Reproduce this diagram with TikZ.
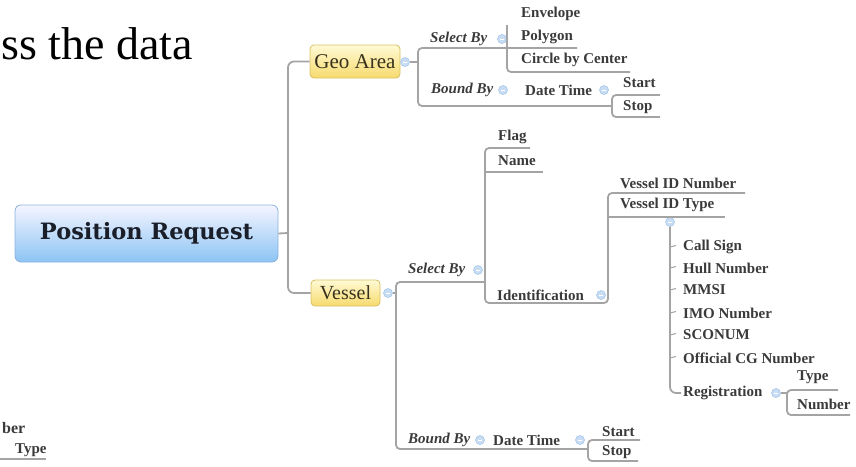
\documentclass[tikz,border=0pt]{standalone}
\usepackage{fontspec}
\setmainfont{Liberation Serif}
\newfontfamily\djs{DejaVu Serif}
\definecolor{lineg}{HTML}{A4A4A4}
\definecolor{txt}{HTML}{3A3A3A}
\definecolor{togfill}{HTML}{C8DDF3}
\definecolor{togdraw}{HTML}{9EC2E6}
\tikzset{
  conn/.style={draw=lineg, line width=1.8pt, rounded corners=4pt},
  tick/.style={draw=lineg, line width=1pt},
  lbl/.style={font=\fontsize{15}{17}\selectfont\bfseries, text=txt, inner sep=0pt, anchor=west},
  lbli/.style={font=\fontsize{15}{17}\selectfont\bfseries\itshape, text=txt, inner sep=0pt, anchor=west},
  tog/.style={circle, fill=togfill, draw=togdraw, line width=0.5pt, minimum size=9pt, inner sep=0pt,
    path picture={\draw[white,line width=0.9pt] ([xshift=-2pt]path picture bounding box.center) -- ([xshift=2pt]path picture bounding box.center);}},
  rootbox/.style={rectangle, rounded corners=6pt, top color=blue!4!white, bottom color={rgb,255:red,140;green,196;blue,244},
    draw={rgb,255:red,140;green,178;blue,220}, line width=0.8pt, minimum width=263pt, minimum height=57pt,
    font=\djs\fontsize{22.5}{24}\selectfont\bfseries, text={rgb,255:red,25;green,30;blue,40}},
  topic/.style={rectangle, rounded corners=4pt, top color={rgb,255:red,255;green,250;blue,212}, bottom color={rgb,255:red,247;green,218;blue,110},
    draw={rgb,255:red,214;green,192;blue,100}, line width=0.8pt, text={rgb,255:red,55;green,50;blue,30}, inner sep=0pt}
}
\begin{document}
\begin{tikzpicture}[x=1pt,y=-1pt]
\useasboundingbox (0,0) rectangle (856,466);

% slide text fragments
\node[font=\fontsize{46}{48}\selectfont, anchor=base east, inner sep=0pt, text=black] (slide) at (193,59) {ss the data};
\node[font=\fontsize{16}{18}\selectfont\bfseries, anchor=base west, inner sep=0pt, text=txt] (frag1) at (2,433) {ber};
\node[font=\fontsize{15}{17}\selectfont\bfseries, anchor=base west, inner sep=0pt, text=txt] (frag2) at (15,453) {Type};
\coordinate (fragL) at (0,459);
\coordinate (fragR) at (46,459);
\draw[draw=lineg, line width=1.6pt] (fragL) -- (fragR);

% root and main topics
\node[rootbox] (root) at (146.5,233.5) {Position Request};
\node[topic, minimum width=90pt, minimum height=33pt, font=\fontsize{21}{23}\selectfont] (geo) at (355,61.5) {Geo Area};
\node[topic, minimum width=69pt, minimum height=26pt, font=\fontsize{20}{22}\selectfont] (vessel) at (345.5,293) {Vessel};
\coordinate (trunk) at (288,233);
\draw[conn, rounded corners=6pt] (geo.west) -| (trunk) |- (vessel.west);
\draw[conn] (root.east) -- (trunk);

% ---------------- Geo Area branch
\node[tog] (gtog) at (405,62) {};
\node[lbli] (gsel) at (430,39) {Select By};
\node[tog] (gseltog) at (502,39) {};
\node[lbl] (genv) at (521,14) {Envelope};
\node[lbl] (gpoly) at (521,37) {Polygon};
\node[lbl] (gcirc) at (521,60) {Circle by Center};
\node[lbli] (gbound) at (431,90) {Bound By};
\node[tog] (gbtog) at (503,90) {};
\node[lbl] (gdate) at (525,90) {Date Time};
\node[tog] (gdtog) at (604,90) {};
\node[lbl] (gstart) at (623,83) {Start};
\node[lbl] (gstop) at (623,107) {Stop};

\coordinate (gj) at (418,62);
\coordinate (gselL) at (418,48);
\coordinate (gbndL) at (418,106);
\coordinate (gdtR) at (612,106);
\coordinate (gpolyR) at (577,48);
\coordinate (genvL) at (507,25);
\coordinate (gcircL) at (507,72);
\coordinate (gcircR) at (630,72);
\coordinate (gstartR) at (660,95);
\coordinate (gstartL) at (612,95);
\coordinate (gstopL) at (612,117);
\coordinate (gstopR) at (660,117);
\draw[conn] (gtog.east) -- (gj);
\draw[conn] (gpolyR) -- (gselL) -- (gbndL) -- (gdtR);
\draw[conn] (genvL) -- (gcircL) -- (gcircR);
\draw[conn] (gstartR) -- (gstartL) -- (gstopL) -- (gstopR);

% ---------------- Vessel branch
\node[tog] (vtog) at (388,293) {};
\node[lbli] (vsel) at (408,270) {Select By};
\node[tog] (vseltog) at (478,270) {};
\node[lbl] (flag) at (498,137) {Flag};
\node[lbl] (name) at (498,161) {Name};
\node[lbl] (ident) at (497,295) {Identification};
\node[tog] (identtog) at (601,295) {};
\node[lbl] (vidnum) at (620,183) {Vessel ID Number};
\node[lbl] (vidtype) at (620,205) {Vessel ID Type};
\node[tog] (vidtog) at (670,222) {};
\node[lbl] (call) at (683,247) {Call Sign};
\node[lbl] (hull) at (683,268) {Hull Number};
\node[lbl] (mmsi) at (683,290) {MMSI};
\node[lbl] (imo) at (683,313) {IMO Number};
\node[lbl] (sconum) at (683,335) {SCONUM};
\node[lbl] (offcg) at (683,358) {Official CG Number};
\node[lbl] (reg) at (683,393) {Registration};
\node[tog] (regtog) at (776,393) {};
\node[lbl] (rtype) at (797,377) {Type};
\node[lbl] (rnum) at (797,404) {Number};
\node[lbli] (vbound) at (408,440) {Bound By};
\node[tog] (vbtog) at (480,440) {};
\node[lbl] (vdate) at (493,440) {Date Time};
\node[tog] (vdtog) at (580,440) {};
\node[lbl] (vstart) at (602,432) {Start};
\node[lbl] (vstop) at (602,452) {Stop};

\coordinate (vj) at (396,293);
\coordinate (vselR) at (485,282);
\coordinate (vselL) at (396,282);
\coordinate (vbndL) at (396,449);
\coordinate (vdtR) at (588,449);
\coordinate (flagR) at (530,148);
\coordinate (flagL) at (485,148);
\coordinate (nameL) at (485,172);
\coordinate (nameR) at (543,172);
\coordinate (identL) at (485,303);
\coordinate (identR) at (608,303);
\coordinate (vidnumL) at (608,193);
\coordinate (vidnumR) at (745,193);
\coordinate (vidtypeL) at (608,217);
\coordinate (vidtypeR) at (725,217);
\coordinate (vlistB) at (670,393);
\coordinate (regL) at (681,393);
\coordinate (rtypeR) at (838,390);
\coordinate (rtypeL) at (787,390);
\coordinate (rnumL) at (787,415);
\coordinate (rnumR) at (850,415);
\coordinate (vstartR) at (640,440);
\coordinate (vstartL) at (588,440);
\coordinate (vstopL) at (588,461);
\coordinate (vstopR) at (638,461);

\draw[conn] (vtog.east) -- (vj);
\draw[conn] (vselR) -- (vselL) -- (vbndL) -- (vdtR);
\draw[conn] (flagR) -- (flagL) -- (identL) -- (identR) -- (vidnumL) -- (vidnumR);
\draw[conn] (nameL) -- (nameR);
\draw[conn] (vidtypeL) -- (vidtypeR);
\draw[conn, rounded corners=6pt] (vidtog.south) -- (vlistB) -- (regL);
\foreach \n in {call,hull,mmsi,imo,sconum,offcg}{
  \draw[tick] (\n.west) ++(-13pt,0) -- ++(6pt,1.5pt);
}
\draw[conn] (regtog.east) -- ++(7pt,0);
\draw[conn] (rtypeR) -- (rtypeL) -- (rnumL) -- (rnumR);
\draw[conn] (vstartR) -- (vstartL) -- (vstopL) -- (vstopR);
\end{tikzpicture}
\end{document}
